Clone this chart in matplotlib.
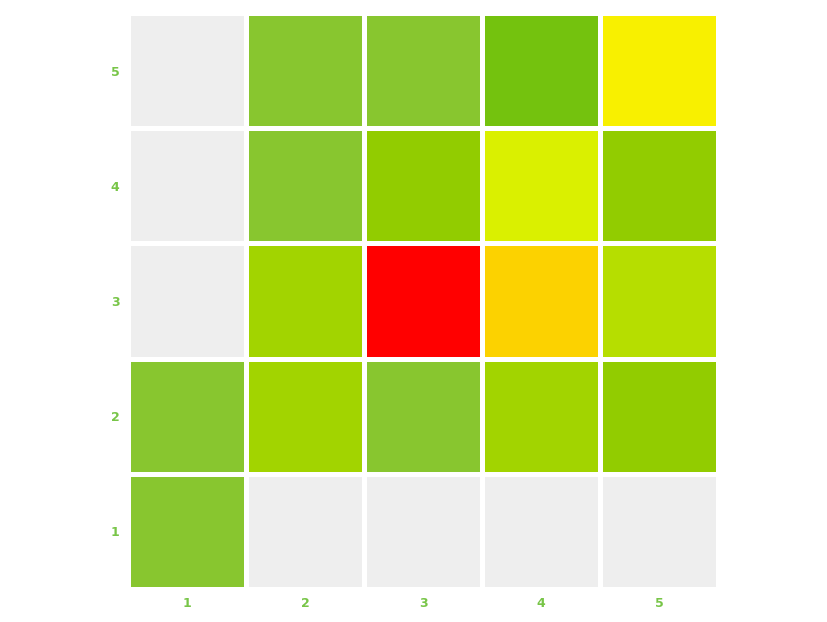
import numpy as np
import matplotlib.pyplot as plt
from matplotlib.colors import ListedColormap, BoundaryNorm

# grid labels
x_labels = ["1", "2", "3", "4", "5"]
y_labels = ["1", "2", "3", "4", "5"]

# colour level for each cell, rows bottom (1) to top (5); 0 = empty
levels = [
    [2, 0, 0, 0, 0],
    [2, 4, 2, 4, 3],
    [0, 4, 9, 8, 5],
    [0, 2, 3, 6, 3],
    [0, 2, 2, 1, 7],
]

palette = ["#eeeeee", "#74c20e", "#88c62f", "#92cc00", "#a2d400",
           "#b6de00", "#daf000", "#f8f000", "#fcd200", "#ff0000"]

fig = plt.figure(figsize=(8.28, 6.22), dpi=100)
ax = fig.add_axes([0.1546, 0.053, 0.7126, 0.926])

cmap = ListedColormap(palette)
norm = BoundaryNorm(np.arange(-0.5, len(palette) + 0.5), cmap.N)
ax.pcolormesh(np.array(levels), cmap=cmap, norm=norm,
              edgecolors="white", linewidth=2.2)

ax.set_xticks(np.arange(len(x_labels)) + 0.5)
ax.set_xticklabels(x_labels)
ax.set_yticks(np.arange(len(y_labels)) + 0.5)
ax.set_yticklabels(y_labels)
ax.tick_params(length=0, labelcolor="#78c548", labelsize=9, pad=6)
for lbl in ax.get_xticklabels() + ax.get_yticklabels():
    lbl.set_fontweight("bold")
for s in ax.spines.values():
    s.set_visible(False)

fig.savefig("out.png", dpi=100)
